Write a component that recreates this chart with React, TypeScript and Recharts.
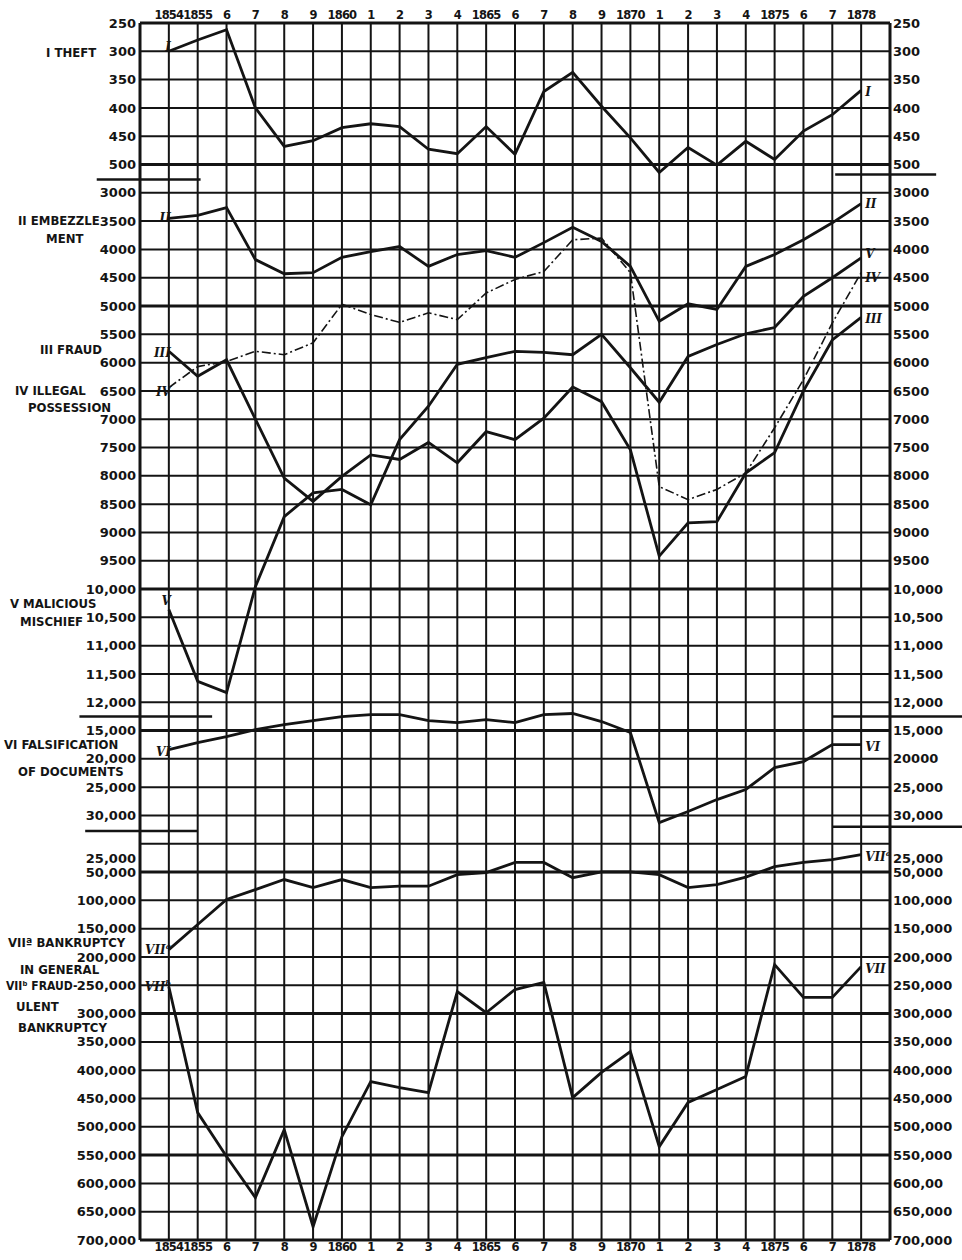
import React from "react";
import {
	LineChart,
	Line,
	XAxis,
	YAxis,
	CartesianGrid,
	ReferenceLine,
} from "recharts";

// years on the x axis, and the abbreviated labels printed above/below
const years = [
	1854, 1855, 1856, 1857, 1858, 1859, 1860, 1861, 1862, 1863, 1864, 1865, 1866,
	1867, 1868, 1869, 1870, 1871, 1872, 1873, 1874, 1875, 1876, 1877, 1878,
];
const yearLabels = [
	"1854", "1855", "6", "7", "8", "9", "1860", "1", "2", "3", "4", "1865", "6",
	"7", "8", "9", "1870", "1", "2", "3", "4", "1875", "6", "7", "1878",
];

// I theft
const theft = [
	300, 280, 262, 400, 468, 458, 435, 428, 433, 473, 481, 433, 482, 371, 337,
	397, 453, 514, 470, 501, 459, 491, 441, 412, 369,
];
// II embezzlement
const embezzlement = [
	3450, 3400, 3260, 4180, 4430, 4410, 4140, 4040, 3950, 4300, 4090, 4020, 4140,
	3880, 3610, 3860, 4300, 5270, 4960, 5060, 4300, 4090, 3830, 3530, 3190,
];
// III fraud
const fraud = [
	5800, 6240, 5950, 7000, 8040, 8450, 8010, 7630, 7710, 7410, 7770, 7220, 7360,
	6980, 6430, 6690, 7540, 9420, 8830, 8810, 7950, 7590, 6500, 5600, 5200,
];
// IV illegal possession
const illegalPossession = [
	6440, 6070, 5980, 5800, 5860, 5650, 4970, 5150, 5290, 5120, 5240, 4770, 4530,
	4390, 3830, 3800, 4410, 8190, 8420, 8240, 7950, 7150, 6300, 5300, 4410,
];
// V malicious mischief
const mischief = [
	10360, 11630, 11830, 9960, 8720, 8300, 8240, 8510, 7360, 6770, 6030, 5910,
	5800, 5820, 5860, 5500, 6090, 6700, 5890, 5680, 5490, 5380, 4830, 4500, 4150,
];
// VI falsification of documents
const falsification = [
	18350, 17120, 16060, 14840, 13940, 13230, 12530, 12170, 12170, 13230, 13590,
	13060, 13590, 12170, 11990, 13410, 15340, 31260, 29310, 27190, 25410, 21540,
	20480, 17470, 17470,
];
// VIIa bankruptcy in general
const bankruptcy = [
	187000, 142600, 98500, 81000, 63200, 77500, 63200, 77500, 75000, 75000,
	54500, 51000, 33000, 33000, 60000, 49500, 49500, 54500, 77500, 72000, 59000,
	40400, 33000, 28000, 19000,
];
// VIIb fraudulent bankruptcy
const fraudulentBankruptcy = [
	252500, 475000, 552500, 625000, 505000, 676500, 517500, 420000, 431000,
	439500, 261000, 298500, 257500, 245000, 448500, 404000, 367000, 535000,
	457000, 434000, 411000, 213500, 271500, 271500, 217000,
];

// tick values of each panel and their printed labels
const theftTicks = [250, 300, 350, 400, 450, 500];
const theftTickLabels = ["250", "300", "350", "400", "450", "500"];
const mainTicks = [
	3000, 3500, 4000, 4500, 5000, 5500, 6000, 6500, 7000, 7500, 8000, 8500, 9000,
	9500, 10000, 10500, 11000, 11500, 12000,
];
const mainTickLabels = [
	"3000", "3500", "4000", "4500", "5000", "5500", "6000", "6500", "7000",
	"7500", "8000", "8500", "9000", "9500", "10,000", "10,500", "11,000",
	"11,500", "12,000",
];
const falsTicks = [15000, 20000, 25000, 30000];
const falsTickLabelsLeft = ["15,000", "20,000", "25,000", "30,000"];
const falsTickLabelsRight = ["15,000", "20000", "25,000", "30,000"];
const bankTicks = [
	25000, 50000, 100000, 150000, 200000, 250000, 300000, 350000, 400000, 450000,
	500000, 550000, 600000, 650000, 700000,
];
const bankTickLabelsLeft = [
	"25,000", "50,000", "100,000", "150,000", "200,000", "250,000", "300,000",
	"350,000", "400,000", "450,000", "500,000", "550,000", "600,000", "650,000",
	"700,000",
];
const bankTickLabelsRight = [
	"25,000", "50,000", "100,000", "150,000", "200,000", "250,000", "300,000",
	"350,000", "400,000", "450,000", "500,000", "550,000", "600,00", "650,000",
	"700,000",
];

// the sheet is one grid of 43 rows; each panel reads it with its own scale
const ROWS = 43;
const THEFT = { base: 250, step: 50 };
const MAIN = { base: 0, step: 500 };
const FALS = { base: -110000, step: 5000 };
const BANK = { base: -1450000, step: 50000 };

const toRow = (p: { base: number; step: number }, v: number) =>
	(v - p.base) / p.step;
const domainOf = (p: { base: number; step: number }) => [
	p.base,
	p.base + ROWS * p.step,
];

const leftRows = [
	...theftTicks.map((v) => toRow(THEFT, v)),
	...mainTicks.map((v) => toRow(MAIN, v)),
	...falsTicks.map((v) => toRow(FALS, v)),
	...bankTicks.map((v) => toRow(BANK, v)),
];
const leftLabels = [
	...theftTickLabels,
	...mainTickLabels,
	...falsTickLabelsLeft,
	...bankTickLabelsLeft,
];
const rightLabels = [
	...theftTickLabels,
	...mainTickLabels,
	...falsTickLabelsRight,
	...bankTickLabelsRight,
];

const gridRows = Array.from({ length: ROWS + 1 }, (_, i) => i);
const gridYears = [1853, ...years, 1879];

const table = years.map((year, i) => ({
	year,
	theft: theft[i],
	embezzlement: embezzlement[i],
	fraud: fraud[i],
	illegalPossession: illegalPossession[i],
	mischief: mischief[i],
	falsification: falsification[i],
	bankruptcy: bankruptcy[i],
	fraudulentBankruptcy: fraudulentBankruptcy[i],
}));

const INK = "#141414";

const series = [
	{ key: "theft", axis: "theft", start: "I", end: "I", sdy: -4, edy: 2 },
	{ key: "embezzlement", axis: "main", start: "II", end: "II", sdy: 0, edy: 0 },
	{ key: "fraud", axis: "main", start: "III", end: "III", sdy: 2, edy: 2 },
	{ key: "illegalPossession", axis: "main", start: "IV", end: "IV", sdy: 4, edy: 5, dashed: true },
	{ key: "mischief", axis: "main", start: "V", end: "V", sdy: -8, edy: -4 },
	{ key: "falsification", axis: "fals", start: "VI", end: "VI", sdy: 2, edy: 2 },
	{ key: "bankruptcy", axis: "bank", start: "VII", end: "VII", sup0: "a", sup1: "a", sdy: 0, edy: 2 },
	{ key: "fraudulentBankruptcy", axis: "bank", start: "VII", end: "VII", sup0: "b", sdy: 0, edy: 2 },
];

const romanStyle = {
	fontFamily: "'DejaVu Serif', serif",
	fontStyle: "italic",
	fontWeight: 700,
	fontSize: 12,
	fill: INK,
};

function ends(s: any) {
	return (props: any) => {
		const { x, y, index } = props;
		if (index === 0) {
			return (
				<text x={x + 2} y={y + 4 + s.sdy} textAnchor='end' style={romanStyle}>
					{s.start}
					{s.sup0 ? (
						<tspan fontSize={8} dy={-5}>
							{s.sup0}
						</tspan>
					) : null}
				</text>
			);
		}
		if (index === years.length - 1) {
			return (
				<text x={x + 4} y={y + 4 + s.edy} textAnchor='start' style={romanStyle}>
					{s.end}
					{s.sup1 ? (
						<tspan fontSize={8} dy={-5}>
							{s.sup1}
						</tspan>
					) : null}
				</text>
			);
		}
		return <g />;
	};
}

const titles = [
	{ text: "I THEFT", left: 46, top: 45, size: 13 },
	{ text: "II EMBEZZLE", left: 18, top: 213, size: 13 },
	{ text: "MENT", left: 46, top: 231, size: 13 },
	{ text: "III FRAUD", left: 40, top: 342, size: 13 },
	{ text: "IV ILLEGAL", left: 15, top: 383, size: 13 },
	{ text: "POSSESSION", left: 28, top: 400, size: 13 },
	{ text: "V MALICIOUS", left: 10, top: 596, size: 13 },
	{ text: "MISCHIEF", left: 20, top: 614, size: 13 },
	{ text: "VI FALSIFICATION", left: 4, top: 737, size: 13 },
	{ text: "OF DOCUMENTS", left: 18, top: 764, size: 13 },
	{ text: "VIIª BANKRUPTCY", left: 8, top: 935, size: 13 },
	{ text: "IN GENERAL", left: 20, top: 962, size: 13 },
	{ text: "VIIᵇ FRAUD-", left: 6, top: 979, size: 12 },
	{ text: "ULENT", left: 16, top: 999, size: 13 },
	{ text: "BANKRUPTCY", left: 18, top: 1020, size: 13 },
];

const tickStyle = {
	fill: INK,
	fontSize: 13,
	fontWeight: 700,
	fontFamily: "'DejaVu Sans', sans-serif",
};
const xTickStyle = { ...tickStyle, fontSize: 11.5, letterSpacing: -0.8 };

// heavier grid rows, and short rules that stick out of the frame
const heavyRows = [5, 10, 20, 25, 30, 35, 40];
const rules = [
	{ y: 5.53, x0: 1851.5, x1: 1855.1 },
	{ y: 5.35, x0: 1877.1, x1: 1880.6 },
	{ y: 24.5, x0: 1850.9, x1: 1855.5 },
	{ y: 24.5, x0: 1877.0, x1: 1881.6 },
	{ y: 28.55, x0: 1851.1, x1: 1855.0 },
	{ y: 28.4, x0: 1877.0, x1: 1881.6 },
];

export default function App() {
	return (
		<div
			style={{
				position: "absolute",
				left: 0,
				top: 0,
				width: 962,
				height: 1260,
				background: "#fff",
			}}>
			<LineChart
				width={962}
				height={1260}
				data={table}
				margin={{ top: 3, right: 2, bottom: 2, left: 8 }}>
				<CartesianGrid
					xAxisId='bottom'
					yAxisId='left'
					stroke={INK}
					strokeWidth={2}
					horizontalValues={gridRows}
					verticalValues={gridYears}
				/>
				<XAxis
					xAxisId='top'
					orientation='top'
					type='number'
					dataKey='year'
					domain={[1853, 1879]}
					allowDataOverflow
					ticks={years}
					interval={0}
					tickFormatter={(v, i) => yearLabels[i]}
					height={20}
					tickSize={0}
					tickMargin={4}
					tickLine={false}
					axisLine={{ stroke: INK, strokeWidth: 3 }}
					tick={xTickStyle}
				/>
				<XAxis
					xAxisId='bottom'
					orientation='bottom'
					type='number'
					dataKey='year'
					domain={[1853, 1879]}
					allowDataOverflow
					ticks={years}
					interval={0}
					tickFormatter={(v, i) => yearLabels[i]}
					height={18}
					tickSize={0}
					tickMargin={3}
					tickLine={false}
					axisLine={{ stroke: INK, strokeWidth: 3 }}
					tick={xTickStyle}
				/>
				<YAxis
					yAxisId='left'
					orientation='left'
					type='number'
					domain={[0, ROWS]}
					allowDataOverflow
					reversed
					ticks={leftRows}
					interval={0}
					tickFormatter={(v, i) => leftLabels[i]}
					width={132}
					tickSize={0}
					tickMargin={4}
					tickLine={false}
					axisLine={{ stroke: INK, strokeWidth: 3 }}
					tick={tickStyle}
				/>
				<YAxis
					yAxisId='right'
					orientation='right'
					type='number'
					domain={[0, ROWS]}
					allowDataOverflow
					reversed
					ticks={leftRows}
					interval={0}
					tickFormatter={(v, i) => rightLabels[i]}
					width={70}
					tickSize={0}
					tickMargin={3}
					tickLine={false}
					axisLine={{ stroke: INK, strokeWidth: 3 }}
					tick={tickStyle}
				/>
				<YAxis yAxisId='theft' hide width={0} orientation='right' type='number' reversed allowDataOverflow domain={domainOf(THEFT)} />
				<YAxis yAxisId='main' hide width={0} orientation='right' type='number' reversed allowDataOverflow domain={domainOf(MAIN)} />
				<YAxis yAxisId='fals' hide width={0} orientation='right' type='number' reversed allowDataOverflow domain={domainOf(FALS)} />
				<YAxis yAxisId='bank' hide width={0} orientation='right' type='number' reversed allowDataOverflow domain={domainOf(BANK)} />

				{heavyRows.map((r) => (
					<ReferenceLine
						key={`h${r}`}
						xAxisId='bottom'
						yAxisId='left'
						y={r}
						stroke={INK}
						strokeWidth={3}
					/>
				))}
				{rules.map((r, i) => (
					<ReferenceLine
						key={`r${i}`}
						xAxisId='bottom'
						yAxisId='left'
						ifOverflow='visible'
						segment={[
							{ x: r.x0, y: r.y },
							{ x: r.x1, y: r.y },
						]}
						stroke={INK}
						strokeWidth={2.5}
					/>
				))}

				{series.map((s) => (
					<Line
						key={s.key}
						xAxisId='bottom'
						yAxisId={s.axis}
						dataKey={s.key}
						type='linear'
						stroke={INK}
						strokeWidth={s.dashed ? 1.6 : 2.8}
						strokeDasharray={s.dashed ? "9 3 2 3" : undefined}
						dot={false}
						activeDot={false}
						isAnimationActive={false}
						label={ends(s)}
					/>
				))}
			</LineChart>
			{titles.map((t) => (
				<div
					key={t.text}
					style={{
						position: "absolute",
						left: t.left,
						top: t.top,
						fontFamily: "'DejaVu Sans Condensed', 'DejaVu Sans', sans-serif",
						fontStretch: "condensed",
						fontWeight: 700,
						fontSize: t.size,
						lineHeight: "15px",
						color: INK,
						whiteSpace: "nowrap",
					}}>
					{t.text}
				</div>
			))}
		</div>
	);
}
